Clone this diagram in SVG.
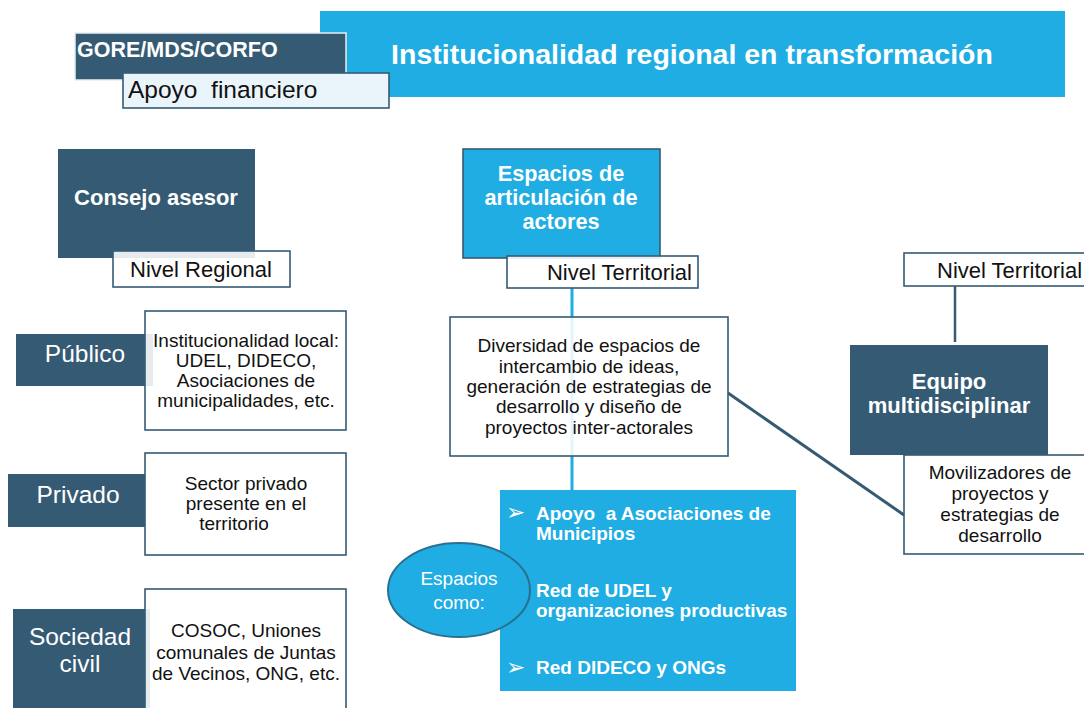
<svg xmlns="http://www.w3.org/2000/svg" width="1084" height="708" viewBox="0 0 1084 708">
<style>
text{font-family:"Liberation Sans",Arial,sans-serif}
.dark{fill:#355b74}
.blue{fill:#1fade3}
.wbox{fill:#ffffff;fill-opacity:0.88;stroke:#355b74;stroke-width:1.6}
.wt{fill:#ffffff}
.bt{fill:#111111}
.b{font-weight:bold}
.c{text-anchor:middle}
.body{font-size:19px}
.big{font-size:24.5px}
.lvl{font-size:22px}
.bullet{font-family:"DejaVu Sans",sans-serif;font-size:23px}
</style>
<rect width="1084" height="708" fill="#ffffff"/>
<g id="title">
<rect x="320" y="11" width="745" height="86" class="blue"/>
<text x="692" y="64" class="wt b c" font-size="28.5">Institucionalidad regional en transformación</text>
</g>
<g id="gore">
<rect x="75" y="33" width="271" height="47" class="dark" stroke="#e8eef2" stroke-width="1.5"/>
<text x="77" y="57" class="wt b" font-size="21.5">GORE/MDS/CORFO</text>
</g>
<g id="apoyo">
<rect x="123" y="73" width="266" height="35" fill="#eaf5fb" stroke="#355b74" stroke-width="1.6"/>
<text x="128" y="98" class="bt" font-size="24.5">Apoyo&#160; financiero</text>
</g>
<g id="connectors">
<line x1="572" y1="288" x2="572" y2="490" stroke="#1fade3" stroke-width="3"/>
<line x1="728" y1="393" x2="904" y2="515" stroke="#355b74" stroke-width="3"/>
<line x1="955" y1="286" x2="955" y2="342" stroke="#355b74" stroke-width="2.5"/>
</g>
<g id="consejo">
<rect x="58" y="149" width="197" height="109" class="dark"/>
<text x="156" y="205" class="wt b c lvl">Consejo asesor</text>
</g>
<g id="nivel-regional">
<rect x="113" y="251" width="177" height="36" class="wbox"/>
<text x="201" y="277" class="bt c lvl">Nivel Regional</text>
</g>
<g id="publico">
<rect x="16" y="334" width="137" height="52" class="dark"/>
<text x="85" y="362" class="wt c big">Público</text>
</g>
<g id="publico-desc">
<rect x="145" y="311" width="201" height="119" class="wbox"/>
<text class="bt c body"><tspan x="246" y="347">Institucionalidad local:</tspan><tspan x="246" y="367">UDEL, DIDECO,</tspan><tspan x="246" y="387">Asociaciones de</tspan><tspan x="246" y="407">municipalidades, etc.</tspan></text>
</g>
<g id="privado">
<rect x="8" y="474" width="137" height="53" class="dark"/>
<text x="78" y="503" class="wt c big">Privado</text>
</g>
<g id="privado-desc">
<rect x="145" y="453" width="201" height="102" class="wbox"/>
<text class="bt c body"><tspan x="246" y="490">Sector privado</tspan><tspan x="246" y="510">presente en el</tspan><tspan x="234" y="530">territorio</tspan></text>
</g>
<g id="sociedad">
<rect x="13" y="609" width="137" height="105" class="dark"/>
<text class="wt c big"><tspan x="80" y="645">Sociedad</tspan><tspan x="80" y="672">civil</tspan></text>
</g>
<g id="sociedad-desc">
<rect x="145" y="589" width="201" height="125" class="wbox"/>
<text class="bt c body"><tspan x="246" y="637">COSOC, Uniones</tspan><tspan x="246" y="659">comunales de Juntas</tspan><tspan x="246" y="680">de Vecinos, ONG, etc.</tspan></text>
</g>
<g id="espacios">
<rect x="463" y="149" width="197" height="109" class="blue" stroke="#355b74" stroke-width="1.6"/>
<text class="wt b c" font-size="21.7"><tspan x="561" y="181">Espacios de</tspan><tspan x="561" y="205">articulación de</tspan><tspan x="561" y="229">actores</tspan></text>
</g>
<g id="nivel-territorial-1">
<rect x="507" y="256" width="191" height="32" class="wbox"/>
<text x="692" y="280" class="bt lvl" text-anchor="end">Nivel Territorial</text>
</g>
<g id="diversidad">
<rect x="450" y="317" width="278" height="139" class="wbox"/>
<text class="bt c body"><tspan x="589" y="352">Diversidad de espacios de</tspan><tspan x="589" y="373">intercambio de ideas,</tspan><tspan x="589" y="393">generación de estrategias de</tspan><tspan x="589" y="413">desarrollo y diseño de</tspan><tspan x="589" y="434">proyectos inter-actorales</tspan></text>
</g>
<g id="lista">
<rect x="500" y="490" width="296" height="201" class="blue"/>
<text class="wt bullet"><tspan x="506" y="520">➢</tspan><tspan x="506" y="675">➢</tspan></text>
<text class="wt b body"><tspan x="536" y="520">Apoyo&#160; a Asociaciones de</tspan><tspan x="536" y="540">Municipios</tspan><tspan x="536" y="597">Red de UDEL y</tspan><tspan x="536" y="617">organizaciones productivas</tspan><tspan x="536" y="674">Red DIDECO y ONGs</tspan></text>
</g>
<g id="espacios-como">
<ellipse cx="459" cy="590" rx="71" ry="47" class="blue" stroke="#2a6f8f" stroke-width="2"/>
<text class="wt c body"><tspan x="459" y="585">Espacios</tspan><tspan x="459" y="609">como:</tspan></text>
</g>
<g id="nivel-territorial-2">
<rect x="904" y="253" width="190" height="33" class="wbox"/>
<text x="937" y="278" class="bt lvl">Nivel Territorial</text>
</g>
<g id="equipo">
<rect x="850" y="345" width="198" height="110" class="dark"/>
<text class="wt b c lvl"><tspan x="949" y="389">Equipo</tspan><tspan x="949" y="413">multidisciplinar</tspan></text>
</g>
<g id="movilizadores">
<rect x="904" y="455" width="190" height="99" class="wbox"/>
<text class="bt c body"><tspan x="1000" y="479">Movilizadores de</tspan><tspan x="1000" y="500">proyectos y</tspan><tspan x="1000" y="521">estrategias de</tspan><tspan x="1000" y="542">desarrollo</tspan></text>
</g>
</svg>
